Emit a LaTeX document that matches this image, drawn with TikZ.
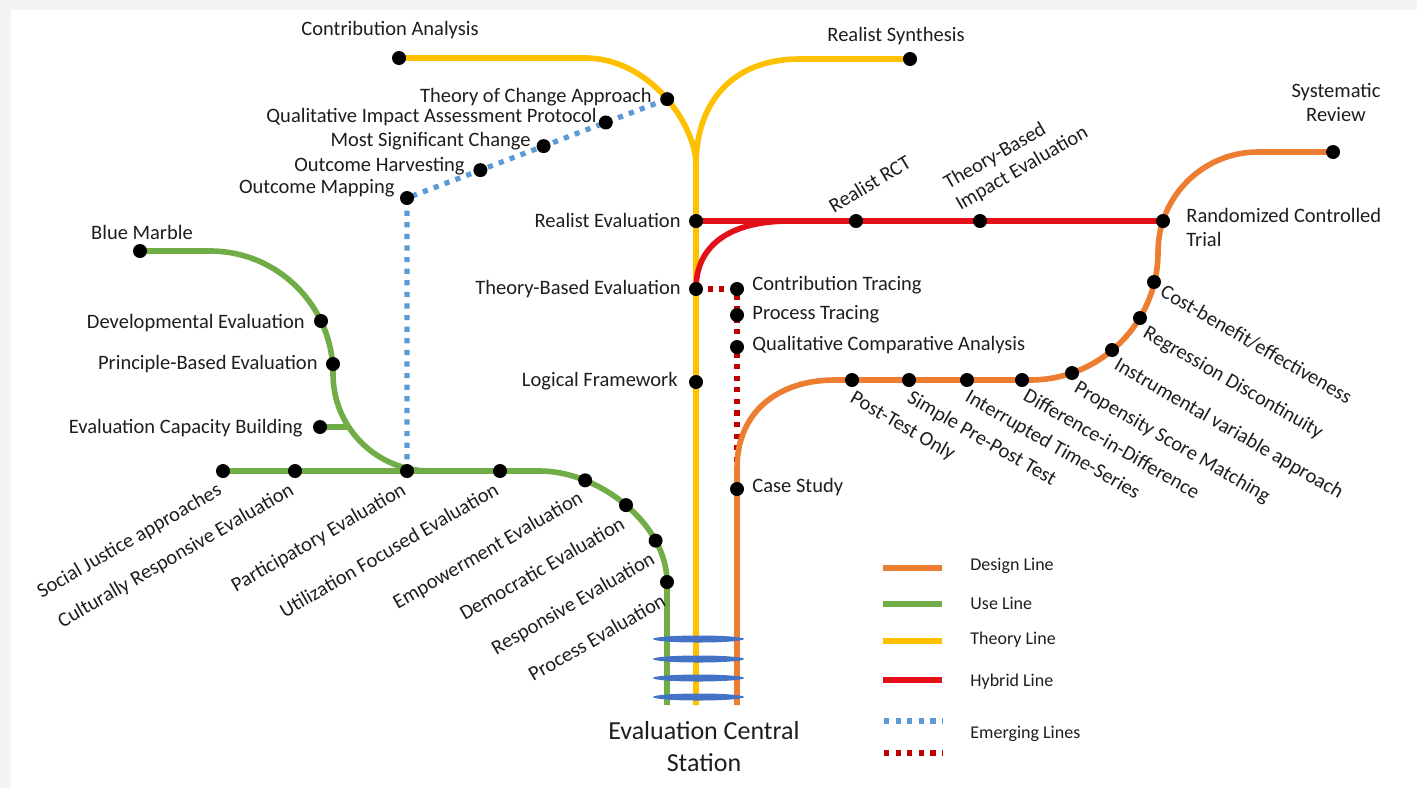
\documentclass[tikz,border=0pt]{standalone}
\usepackage{fontspec}
\setmainfont{Carlito}
\usetikzlibrary{calc}
\definecolor{cOr}{HTML}{ED7D31}
\definecolor{cGr}{HTML}{70AD47}
\definecolor{cYe}{HTML}{FFC000}
\definecolor{cRd}{HTML}{E3101A}
\definecolor{cRdD}{HTML}{C00000}
\definecolor{cBl}{HTML}{5B9BD5}
\definecolor{cSt}{HTML}{4472C4}
\definecolor{cBg}{HTML}{F3F3F3}
\definecolor{cTx}{HTML}{1E1E1E}
\begin{document}
\begin{tikzpicture}[x=0.5pt,y=-0.5pt,
  mline/.style={line width=2.8pt},
  dotline/.style={line width=2.6pt, dash pattern=on 2.6pt off 3.2pt},
  lbl/.style={font=\fontsize{10.25}{12}\selectfont, text=cTx, inner sep=0pt},
  leg/.style={font=\fontsize{9}{11}\selectfont, text=cTx, inner sep=0pt, anchor=west},
  dlbl/.style={lbl, rotate=-30, anchor=north west},
  glbl/.style={lbl, rotate=30, anchor=north east},
]
\useasboundingbox (0,0) rectangle (1417,788);
\fill[cBg] (0,0) rectangle (1417,788);
\fill[white] (11,10) rectangle (1417,788);

% station coordinates
\coordinate (ca) at (399,58);
\coordinate (rs) at (910,59);
\coordinate (re) at (696,221);
\coordinate (tbe) at (696,289);
\coordinate (lf) at (696,382);
\coordinate (rrct) at (856,221);
\coordinate (tbie) at (980,221);
\coordinate (rct) at (1163,221);
\coordinate (ct) at (737,289);
\coordinate (pt) at (737,315);
\coordinate (qca) at (737,347);
\coordinate (cs) at (737,489);
\coordinate (pto) at (852,380);
\coordinate (spp) at (909,380);
\coordinate (its) at (967,380);
\coordinate (did) at (1022,380);
\coordinate (psm) at (1072,373);
\coordinate (iva) at (1112,350);
\coordinate (rd) at (1140,318);
\coordinate (cb) at (1154,282);
\coordinate (sr) at (1333,152);
\coordinate (bm) at (140,251);
\coordinate (dev) at (321,321);
\coordinate (pbe) at (333,364);
\coordinate (ecb) at (320,427);
\coordinate (ecbj) at (349,427);
\coordinate (sja) at (223,471);
\coordinate (crs) at (295,471);
\coordinate (pe) at (407,471);
\coordinate (ufe) at (500,471);
\coordinate (proc) at (667,582);
\coordinate (om) at (407,198);

% emerging lines
\draw[dotline,cRdD] (tbe) -- (ct) -- (cs);

% theory line
\draw[mline,cYe] (ca) -- (585,58) .. controls (650,58) and (696,125) .. (696,165)
  coordinate[pos=0.52] (toc) -- (696,705);
\draw[mline,cYe] (696,165) .. controls (696,105) and (730,59) .. (800,59) -- (rs);

\coordinate (oh) at ($(om)!0.282!(toc)$);
\coordinate (msc) at ($(om)!0.525!(toc)$);
\coordinate (qiap) at ($(om)!0.764!(toc)$);
\draw[dotline,cBl] (pe) -- (om) -- (toc);

% hybrid line
\draw[mline,cRd] (re) -- (rct);
\draw[mline,cRd] (tbe) .. controls (696,245) and (730,221) .. (790,221);

% design line
\draw[mline,cOr] (737,705) -- (cs) -- (737,468) .. controls (737,412) and (778,380) .. (835,380)
  -- (1030,380) .. controls (1100.7,380) and (1158,322.7) .. (1158,252)
  .. controls (1158,196.8) and (1202.8,152) .. (1258,152) -- (sr);

% use line
\draw[mline,cGr] (bm) -- (210,251) .. controls (277.9,251) and (333,306.1) .. (333,374)
  .. controls (333,427.6) and (376.4,471) .. (430,471);
\draw[mline,cGr] (ecb) -- (ecbj);
\draw[mline,cGr] (sja) -- (540,471) .. controls (600,471) and (667,525) .. (proc)
  coordinate[pos=0.25] (emp) coordinate[pos=0.5] (dem) coordinate[pos=0.75] (resp)
  -- (667,705);

% station dots
\foreach \n in {ca,rs,toc,re,tbe,lf,rrct,tbie,rct,ct,pt,qca,cs,pto,spp,its,did,psm,iva,rd,cb,sr,
  bm,dev,pbe,ecb,sja,crs,pe,ufe,emp,dem,resp,proc,om,oh,msc,qiap}
  \fill[black] (\n) circle (3.5pt);

% central station
\foreach \yy in {639,659,678,697}
  \fill[cSt] (698.5,\yy) ellipse [x radius=45.5, y radius=3.5];
\node[font=\fontsize{13}{16}\selectfont, text=cTx, align=center, inner sep=0pt] (l-central) at (704,747) {Evaluation Central\\Station};

% labels
\node[lbl] (l-ca) at (390,30) {Contribution Analysis};
\node[lbl] (l-rs) at (896,36) {Realist Synthesis};
\node[lbl,anchor=east] (l-toc) at (652,97) {Theory of Change Approach};
\node[lbl,anchor=east] (l-qiap) at (597,117) {Qualitative Impact Assessment Protocol};
\node[lbl,anchor=east] (l-msc) at (531,141) {Most Significant Change};
\node[lbl,anchor=east] (l-oh) at (465,166) {Outcome Harvesting};
\node[lbl,anchor=east] (l-om) at (395,188) {Outcome Mapping};
\node[lbl,anchor=east] (l-re) at (681,220) {Realist Evaluation};
\node[lbl,anchor=east] (l-tbe) at (681,289) {Theory-Based Evaluation};
\node[lbl,anchor=east] (l-lf) at (678,381) {Logical Framework};
\node[lbl] (l-bm) at (142,232) {Blue Marble};
\node[lbl,anchor=east] (l-dev) at (305,323) {Developmental Evaluation};
\node[lbl,anchor=east] (l-pbe) at (318,364) {Principle-Based Evaluation};
\node[lbl,anchor=east] (l-ecb) at (303,428) {Evaluation Capacity Building};
\node[lbl,anchor=west] (l-ct) at (752,285) {Contribution Tracing};
\node[lbl,anchor=west] (l-pt) at (752,314) {Process Tracing};
\node[lbl,anchor=west] (l-qca) at (752,345) {Qualitative Comparative Analysis};
\node[lbl,anchor=west] (l-cs) at (752,487) {Case Study};
\node[lbl,anchor=north west,align=left] (l-rct) at (1186,208) {Randomized Controlled\\Trial};
\node[lbl,align=center] (l-sr) at (1336,102) {Systematic\\Review};
\node[lbl,rotate=31,anchor=south west] (l-rrct) at (834,214) {Realist RCT};
\node[lbl,rotate=30,anchor=south west,align=left] (l-tbie) at (962,214) {Theory-Based\\Impact Evaluation};

\node[dlbl] (l-pto) at (856,389) {Post-Test Only};
\node[dlbl] (l-spp) at (913,389) {Simple Pre-Post Test};
\node[dlbl] (l-its) at (971,388) {Interrupted Time-Series};
\node[dlbl] (l-did) at (1029,387) {Difference-in-Difference};
\node[dlbl] (l-psm) at (1080,379) {Propensity Score Matching};
\node[dlbl] (l-iva) at (1120,356) {Instrumental variable approach};
\node[dlbl] (l-rd) at (1149,324) {Regression Discontinuity};
\node[dlbl] (l-cb) at (1166,283) {Cost-benefit/effectiveness};

\node[glbl] (l-sja) at (216,481) {Social Justice approaches};
\node[glbl] (l-crs) at (288,481) {Culturally Responsive Evaluation};
\node[glbl] (l-pe) at (400,481) {Participatory Evaluation};
\node[glbl] (l-ufe) at (493,481) {Utilization Focused Evaluation};
\node[glbl] (l-emp) at (577,489) {Empowerment Evaluation};
\node[glbl] (l-dem) at (619,515) {Democratic Evaluation};
\node[glbl] (l-resp) at (649,550) {Responsive Evaluation};
\node[glbl] (l-proc) at (660,592) {Process Evaluation};

% legend
\coordinate (lg1a) at (883,568); \coordinate (lg1b) at (942,568);
\coordinate (lg2a) at (883,604); \coordinate (lg2b) at (942,604);
\coordinate (lg3a) at (883,641); \coordinate (lg3b) at (942,641);
\coordinate (lg4a) at (883,680); \coordinate (lg4b) at (942,680);
\coordinate (lg5a) at (884,721); \coordinate (lg5b) at (943,721);
\coordinate (lg6a) at (884,753); \coordinate (lg6b) at (943,753);
\draw[mline,cOr] (lg1a) -- (lg1b);
\draw[mline,cGr] (lg2a) -- (lg2b);
\draw[mline,cYe] (lg3a) -- (lg3b);
\draw[mline,cRd] (lg4a) -- (lg4b);
\draw[dotline,cBl] (lg5a) -- (lg5b);
\draw[dotline,cRdD] (lg6a) -- (lg6b);
\node[leg] (t-design) at (970,566) {Design Line};
\node[leg] (t-use) at (970,603) {Use Line};
\node[leg] (t-theory) at (970,640) {Theory Line};
\node[leg] (t-hybrid) at (970,682) {Hybrid Line};
\node[leg] (t-emerg) at (970,734) {Emerging Lines};
\end{tikzpicture}
\end{document}
